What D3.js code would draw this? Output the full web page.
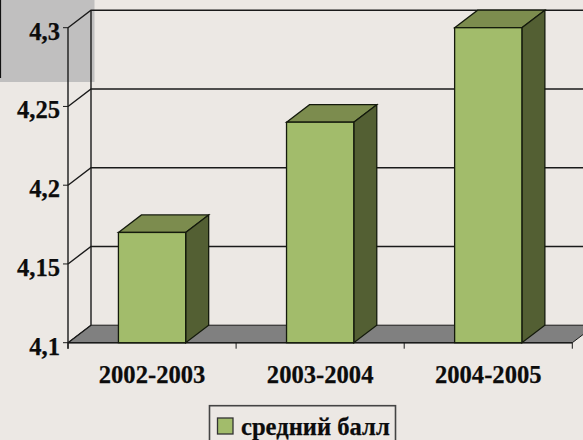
<!DOCTYPE html>
<html><head><meta charset="utf-8">
<script src="https://cdn.jsdelivr.net/npm/d3@7/dist/d3.min.js"></script>
<style>html,body{margin:0;padding:0;background:#ece8e4;overflow:hidden}svg{display:block}</style>
</head><body><svg id="c" width="583" height="440"></svg>
<script>
const categories = ["2002-2003","2003-2004","2004-2005"];
const values = [4.17,4.24,4.3];
const yTicks = [4.1,4.15,4.2,4.25,4.3];
const yLabels = ["4,1","4,15","4,2","4,25","4,3"];
const seriesName = "средний балл";

const svg = d3.select("#c");
const font = "'Liberation Serif', serif";
const x0 = 68, x1 = 572.3, yB = 342.7, yT = 27.7, dx = 23, dy = 17.5;
const y = d3.scaleLinear().domain([4.1,4.3]).range([yB,yT]);
const x = d3.scaleBand().domain(categories).range([x0,x1]).paddingInner(0.6).paddingOuter(0.3);
const ax = "#1a1a1a";
const txt = s => s.attr("font-family",font).attr("font-weight","bold").attr("font-size",24.6)
  .attr("fill","#0c0c0c").attr("stroke","#0c0c0c").attr("stroke-width",0.25);

// overlay square (sits behind the chart's lines and labels)
svg.append("rect").attr("x",0).attr("y",0).attr("width",94.5).attr("height",82).attr("fill","#c0bfbf");
svg.append("line").attr("x1",0.5).attr("x2",0.5).attr("y1",0).attr("y2",78).attr("stroke","#111").attr("stroke-width",1.2);
// floor
svg.append("polygon").attr("points",[[x0,yB],[x0+dx,yB-dy],[x1+dx,yB-dy],[x1,yB]].join(" "))
  .attr("fill","#808080").attr("stroke",ax).attr("stroke-width",1);
// back gridlines, side-wall diagonals
yTicks.forEach((t,i)=>{
  const p=y(t);
  svg.append("path").attr("d",`M${x0},${p}L${x0+dx},${p-dy}`+(t>4.1?`H${x1+dx}`:"")).attr("fill","none").attr("stroke",ax).attr("stroke-width",1.4);
  svg.append("line").attr("x1",x0-5).attr("x2",x0).attr("y1",p).attr("y2",p).attr("stroke",ax);
  svg.append("text").attr("x",60).attr("y",p+12).attr("text-anchor","end").call(txt).text(yLabels[i]);
});
// walls
svg.append("line").attr("x1",x0).attr("x2",x0).attr("y1",yT).attr("y2",yB+6).attr("stroke",ax).attr("stroke-width",1.4);
svg.append("line").attr("x1",x0+dx).attr("x2",x0+dx).attr("y1",yT-dy).attr("y2",yB-dy).attr("stroke",ax).attr("stroke-width",1.4);
// x axis
svg.append("line").attr("x1",x0).attr("x2",x1).attr("y1",yB).attr("y2",yB).attr("stroke",ax).attr("stroke-width",1.4);
d3.range(0,4).forEach(i=>{
  const px=x0+(x1-x0)*i/3;
  svg.append("line").attr("x1",px).attr("x2",px).attr("y1",yB).attr("y2",yB+6).attr("stroke",ax);
});
// bars
const g=svg.selectAll("g.bar").data(values).join("g").attr("class","bar");
const stroke="#141a0c";
g.append("polygon").attr("fill","#7c8c4e").attr("stroke",stroke).attr("stroke-width",1.3)
  .attr("points",(d,i)=>{const a=x(categories[i]),b=a+x.bandwidth(),t=y(d);return [[a,t],[a+dx,t-dy],[b+dx,t-dy],[b,t]].join(" ")});
g.append("polygon").attr("fill","#535f33").attr("stroke",stroke).attr("stroke-width",1.3)
  .attr("points",(d,i)=>{const b=x(categories[i])+x.bandwidth(),t=y(d);return [[b,t],[b+dx,t-dy],[b+dx,yB-dy],[b,yB]].join(" ")});
g.append("rect").attr("fill","#a2bc6b").attr("stroke",stroke).attr("stroke-width",1.3)
  .attr("x",(d,i)=>x(categories[i])).attr("width",x.bandwidth()).attr("y",d=>y(d)).attr("height",d=>yB-y(d));
// x labels
svg.selectAll("text.xl").data(categories).join("text").attr("class","xl")
  .attr("x",d=>x(d)+x.bandwidth()/2).attr("y",383).attr("text-anchor","middle").call(txt).text(d=>d);
// legend
svg.append("rect").attr("x",209.5).attr("y",405.7).attr("width",186).attr("height",40).attr("fill","none").attr("stroke","#444").attr("stroke-width",1.6);
svg.append("rect").attr("x",217.5).attr("y",418).attr("width",15.5).attr("height",16).attr("fill","#a2bc6b").attr("stroke","#333").attr("stroke-width",1.3);
svg.append("text").attr("x",241).attr("y",434.5).call(txt).text(seriesName);
</script></body></html>
